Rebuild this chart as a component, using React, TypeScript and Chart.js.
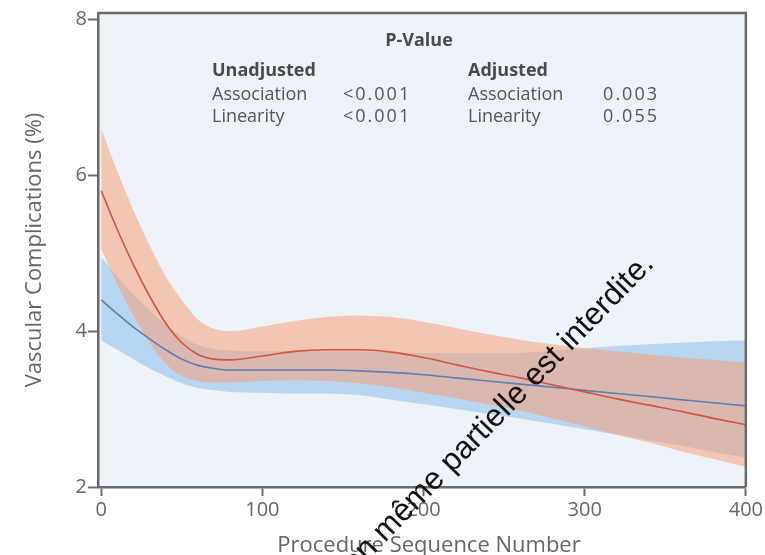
import React, { useEffect, useRef } from "react";
import { Chart, registerables } from "chart.js";

Chart.register(...registerables);

const xValues = [0, 10, 20, 30, 40, 50, 60, 70, 80, 100, 120, 140, 160, 180, 200, 220, 240, 260, 280, 300, 320, 340, 360, 380, 400];

const unadjMean = [5.8, 5.3, 4.85, 4.45, 4.1, 3.85, 3.7, 3.64, 3.63, 3.68, 3.74, 3.76, 3.76, 3.73, 3.66, 3.57, 3.48, 3.4, 3.31, 3.22, 3.13, 3.05, 2.97, 2.88, 2.8];
const unadjUpper = [6.6, 6.05, 5.55, 5.1, 4.7, 4.4, 4.15, 4.03, 4.0, 4.06, 4.13, 4.18, 4.2, 4.18, 4.12, 4.04, 3.96, 3.89, 3.83, 3.78, 3.74, 3.7, 3.66, 3.63, 3.6];
const unadjLower = [5.05, 4.6, 4.2, 3.85, 3.58, 3.42, 3.36, 3.34, 3.34, 3.36, 3.37, 3.36, 3.33, 3.28, 3.21, 3.14, 3.06, 2.98, 2.88, 2.78, 2.67, 2.57, 2.46, 2.36, 2.26];

const adjMean = [4.4, 4.22, 4.05, 3.9, 3.76, 3.64, 3.56, 3.52, 3.5, 3.5, 3.5, 3.5, 3.49, 3.47, 3.44, 3.4, 3.36, 3.32, 3.28, 3.24, 3.2, 3.16, 3.12, 3.08, 3.04];
const adjUpper = [4.95, 4.7, 4.47, 4.27, 4.08, 3.93, 3.82, 3.77, 3.75, 3.74, 3.74, 3.74, 3.74, 3.73, 3.72, 3.72, 3.72, 3.72, 3.75, 3.78, 3.81, 3.83, 3.85, 3.87, 3.88];
const adjLower = [3.88, 3.76, 3.64, 3.52, 3.42, 3.33, 3.27, 3.24, 3.22, 3.21, 3.2, 3.2, 3.18, 3.12, 3.06, 3.0, 2.94, 2.88, 2.81, 2.74, 2.67, 2.6, 2.53, 2.45, 2.38];

const xTicks = [0, 100, 200, 300, 400];
const yTicks = [2, 4, 6, 8];

const xTitle = "Procedure Sequence Number";
const yTitle = "Vascular Complications (%)";
const pHeader = "P-Value";
const unadjLabel = "Unadjusted";
const adjLabel = "Adjusted";
const rowLabels = ["Association", "Linearity"];
const unadjP = ["<0.001", "<0.001"];
const adjP = ["0.003", "0.055"];
const watermark = "Toute reproduction même partielle est interdite.";
const watermarkVisible = "même partielle est interdite.";

const pts = (ys: number[]) => xValues.map((x, i) => ({ x, y: ys[i] }));

const RED_LINE = "#d4543f";
const BLUE_LINE = "#5b7fb5";
const RED_BAND = "rgba(248,160,120,0.55)";
const BLUE_BAND = "rgba(140,190,235,0.55)";
const AXIS = "#6a6a6a";
const FONT = "'Open Sans', 'Noto Sans', sans-serif";

export default function App() {
  const ref = useRef<HTMLCanvasElement>(null);

  useEffect(() => {
    const canvas = ref.current;
    if (!canvas) return;

    const framePlugin = {
      id: "frame",
      beforeDraw(chart: any) {
        const { ctx, chartArea: a } = chart;
        ctx.save();
        ctx.fillStyle = "#ffffff";
        ctx.fillRect(0, 0, chart.width, chart.height);
        ctx.fillStyle = "#eef3fa";
        ctx.fillRect(a.left, a.top, a.right - a.left, a.bottom - a.top);
        ctx.restore();
      },
      afterDraw(chart: any) {
        const { ctx, chartArea: a } = chart;
        ctx.save();
        ctx.strokeStyle = AXIS;
        ctx.lineWidth = 2.5;
        ctx.beginPath();
        ctx.moveTo(a.left, a.top);
        ctx.lineTo(a.right, a.top);
        ctx.lineTo(a.right, a.bottom);
        ctx.stroke();

        // P-value annotation
        ctx.fillStyle = "#4a4a4a";
        ctx.textBaseline = "middle";
        ctx.font = `bold 18px ${FONT}`;
        ctx.textAlign = "center";
        ctx.fillText(pHeader, 419, 41);
        ctx.textAlign = "left";
        ctx.fillText(unadjLabel, 212, 71);
        ctx.fillText(adjLabel, 468, 71);
        ctx.font = `18px ${FONT}`;
        ctx.fillStyle = "#555";
        const rowsY = [95, 117];
        rowLabels.forEach((lab, i) => {
          ctx.textAlign = "left";
          (ctx as any).letterSpacing = "0px";
          ctx.fillText(lab, 212, rowsY[i]);
          ctx.fillText(lab, 468, rowsY[i]);
          (ctx as any).letterSpacing = "2px";
          ctx.fillText(unadjP[i], 343, rowsY[i]);
          ctx.textAlign = "right";
          ctx.fillText(adjP[i], 659, rowsY[i]);
          (ctx as any).letterSpacing = "0px";
        });

        // axis titles
        ctx.fillStyle = "#666";
        ctx.font = `22px ${FONT}`;
        ctx.textAlign = "center";
        ctx.textBaseline = "middle";
        ctx.fillText(xTitle, 429, 546);
        ctx.save();
        ctx.translate(35, (a.top + a.bottom) / 2);
        ctx.rotate(-Math.PI / 2);
        ctx.fillText(yTitle, 0, 0);
        ctx.restore();

        // watermark: end at (655,265), visible part starts near (385,543)
        const sx = 385, sy = 543, ex = 655, ey = 265;
        const len = Math.hypot(ex - sx, ey - sy);
        const ang = Math.atan2(ey - sy, ex - sx);
        ctx.save();
        ctx.font = "100px 'Liberation Sans', Arial, sans-serif";
        const w100 = ctx.measureText(watermarkVisible).width;
        const size = (100 * len) / w100;
        ctx.font = `${size}px 'Liberation Sans', Arial, sans-serif`;
        ctx.translate(ex, ey);
        ctx.rotate(ang);
        ctx.fillStyle = "#111";
        ctx.textAlign = "right";
        ctx.textBaseline = "alphabetic";
        ctx.fillText(watermark, 0, 0);
        ctx.restore();
        ctx.restore();
      },
    };

    const chart = new Chart(canvas, {
      type: "line",
      data: {
        datasets: [
          { data: pts(unadjUpper), fill: "+1", backgroundColor: RED_BAND, borderWidth: 0, pointRadius: 0, order: 2 },
          { data: pts(unadjLower), fill: false, borderWidth: 0, pointRadius: 0, order: 2 },
          { data: pts(adjUpper), fill: "+1", backgroundColor: BLUE_BAND, borderWidth: 0, pointRadius: 0, order: 3 },
          { data: pts(adjLower), fill: false, borderWidth: 0, pointRadius: 0, order: 3 },
          { data: pts(adjMean), fill: false, borderColor: BLUE_LINE, borderWidth: 1.6, pointRadius: 0, order: 1 },
          { data: pts(unadjMean), fill: false, borderColor: RED_LINE, borderWidth: 1.6, pointRadius: 0, order: 0 },
        ],
      },
      options: {
        responsive: false,
        animation: false,
        cubicInterpolationMode: "monotone",
        layout: { padding: { top: 12, right: 15, left: 0, bottom: 0 } },
        plugins: { legend: { display: false }, tooltip: { enabled: false } },
        scales: {
          x: {
            type: "linear",
            min: -2,
            max: 400,
            afterFit: (s: any) => { s.height = 68; },
            afterBuildTicks: (s: any) => { s.ticks = xTicks.map((v) => ({ value: v })); },
            grid: { drawOnChartArea: false, drawTicks: true, tickLength: 9, tickColor: AXIS, tickWidth: 2 },
            border: { display: true, color: AXIS, width: 2.5 },
            ticks: { color: "#666", font: { size: 20, family: FONT }, padding: 2, maxRotation: 0 },
          },
          y: {
            type: "linear",
            min: 2,
            max: 8.08,
            afterFit: (s: any) => { s.width = 98; },
            afterBuildTicks: (s: any) => { s.ticks = yTicks.map((v) => ({ value: v })); },
            grid: { drawOnChartArea: false, drawTicks: true, tickLength: 10, tickColor: AXIS, tickWidth: 2 },
            border: { display: true, color: AXIS, width: 2.5 },
            ticks: { color: "#666", font: { size: 20, family: FONT }, padding: 1 },
          },
        },
      } as any,
      plugins: [framePlugin],
    });
    return () => chart.destroy();
  }, []);

  return (
    <canvas
      ref={ref}
      width={765}
      height={555}
      style={{ position: "absolute", left: 0, top: 0, display: "block" }}
    />
  );
}
